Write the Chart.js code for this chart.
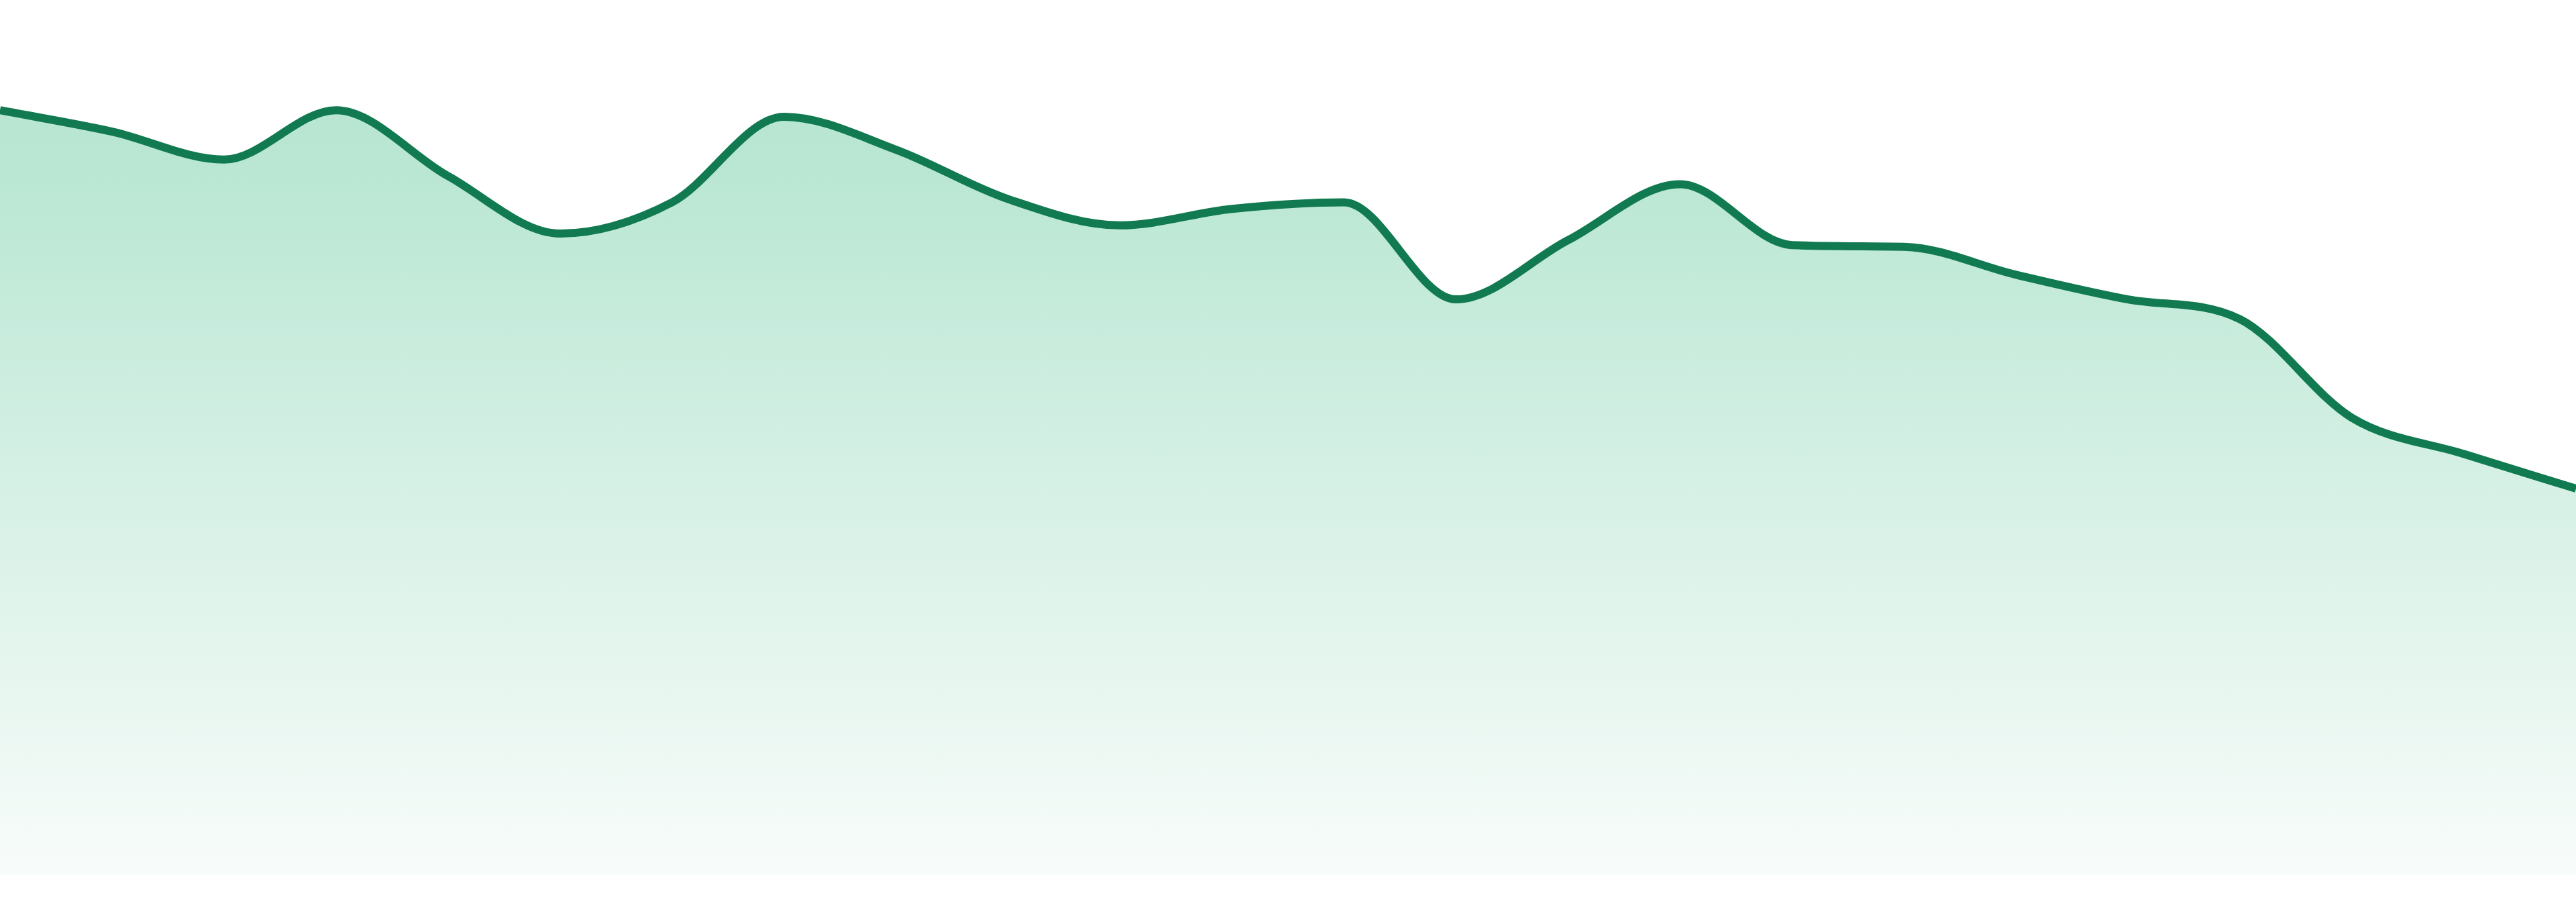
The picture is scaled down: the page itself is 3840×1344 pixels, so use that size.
<!DOCTYPE html>
<html>
<head>
<meta charset="utf-8">
<script src="https://cdn.jsdelivr.net/npm/chart.js@4.4.1/dist/chart.umd.min.js"></script>
<style>
  html, body { margin: 0; padding: 0; background: #ffffff; }
  #wrap { width: 3840px; height: 1344px; position: relative; }
</style>
</head>
<body>
<div id="wrap"><canvas id="myChart"></canvas></div>
<script>
// values
const labels = ["1","2","3","4","5","6","7","8","9","10","11","12",
                "13","14","15","16","17","18","19","20","21","22","23","24"];
const values = [465, 452, 435, 465, 425, 390, 409, 461, 441, 411, 395, 405,
                409, 350, 386, 420, 383, 382, 365, 350, 338, 278, 256, 235];
const yMin = 0;
const yMax = 532;

const ctx = document.getElementById('myChart');

function areaFill(context) {
  const chart = context.chart;
  const area = chart.chartArea;
  if (!area) {
    return '#c8ecdc';
  }
  const g = chart.ctx.createLinearGradient(0, area.top, 0, area.bottom);
  g.addColorStop(0, '#b3e4cf');
  g.addColorStop(0.2, '#bae7d4');
  g.addColorStop(1, '#f8fcfa');
  return g;
}

new Chart(ctx, {
  type: 'line',
  data: {
    labels: labels,
    datasets: [{
      data: values,
      borderColor: '#117a50',
      borderWidth: 12,
      backgroundColor: areaFill,
      fill: 'origin',
      cubicInterpolationMode: 'monotone',
      pointRadius: 0,
      pointHoverRadius: 0
    }]
  },
  options: {
    responsive: true,
    maintainAspectRatio: false,
    animation: false,
    layout: { padding: { left: 0, right: 0, top: 0, bottom: 40 } },
    plugins: {
      legend: { display: false },
      tooltip: { enabled: false }
    },
    scales: {
      x: { display: false, offset: false },
      y: { display: false, min: yMin, max: yMax }
    }
  }
});
</script>
</body>
</html>
